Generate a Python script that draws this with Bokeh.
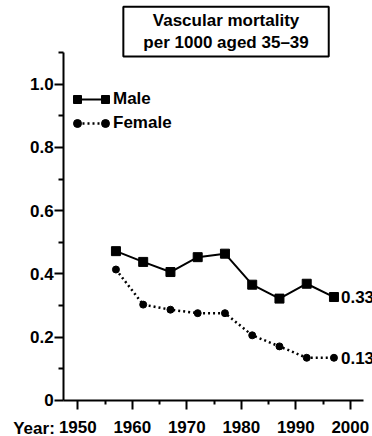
from bokeh.plotting import figure
from bokeh.models import (Range1d, FixedTicker, Label, Legend, LegendItem)
from bokeh.core.properties import value
from bokeh.embed import file_html
from bokeh.resources import INLINE

# ---- data ----
years = [1957, 1962, 1967, 1972, 1977, 1982, 1987, 1992, 1997]
male = [0.472, 0.438, 0.406, 0.453, 0.464, 0.366, 0.322, 0.369, 0.327]
female = [0.414, 0.303, 0.287, 0.276, 0.276, 0.206, 0.171, 0.135, 0.135]
end_labels = ["0.33", "0.13"]
series_names = ["Male", "Female"]
x_ticks = [1950, 1960, 1970, 1980, 1990, 2000]
x_minor = [1955, 1965, 1975, 1985, 1995]
y_ticks = [0, 0.2, 0.4, 0.6, 0.8, 1.0]
y_tick_labels = ["0", "0.2", "0.4", "0.6", "0.8", "1.0"]
y_minor = [0.1, 0.3, 0.5, 0.7, 0.9, 1.1]
title_text = "Vascular mortality\nper 1000 aged 35\u201339"

FONT = "Liberation Sans"
FS = "17px"

# axis extents (data) and full canvas ranges
X_AXIS_START, X_AXIS_END = 1947.4, 2002.4
Y_AXIS_START, Y_AXIS_END = 0, 1.1001

p = figure(width=372, height=436, output_backend="svg", toolbar_location=None,
           x_range=Range1d(1935.82, 2004.07), y_range=Range1d(-0.1138, 1.2642),
           min_border=0)
p.outline_line_color = None
p.grid.visible = False
p.background_fill_color = "white"
p.border_fill_color = "white"

for ax in (p.xaxis[0], p.yaxis[0]):
    ax.axis_line_width = 2
    ax.major_tick_line_width = 2
    ax.minor_tick_line_width = 2
    ax.major_tick_in = 0
    ax.minor_tick_in = 0
    ax.major_label_text_font = FONT
    ax.major_label_text_font_style = "bold"
    ax.major_label_text_font_size = FS
    ax.major_label_text_color = "black"
    ax.axis_line_color = "black"
    ax.major_tick_line_color = "black"
    ax.minor_tick_line_color = "black"

p.xaxis.ticker = FixedTicker(ticks=x_ticks, minor_ticks=x_minor)
p.xaxis.major_tick_out = 9
p.xaxis.minor_tick_out = 4
p.xaxis.major_label_standoff = 12
p.xaxis.fixed_location = 0
p.xaxis.bounds = (X_AXIS_START, X_AXIS_END)

p.yaxis.ticker = FixedTicker(ticks=y_ticks, minor_ticks=y_minor)
p.yaxis.major_label_overrides = {t: l for t, l in zip(y_ticks, y_tick_labels)}
p.yaxis.major_tick_out = 9
p.yaxis.minor_tick_out = 5
p.yaxis.major_label_standoff = 1
p.yaxis.fixed_location = X_AXIS_START
p.yaxis.bounds = (Y_AXIS_START, Y_AXIS_END)

ml = p.line(years, male, line_color="black", line_width=2)
ms = p.scatter(years, male, marker="square", size=9, fill_color="black", line_color="black")
fl = p.line(years, female, line_color="black", line_width=2.5, line_dash="2 3")
fs = p.scatter(years, female, marker="circle", size=7, fill_color="black", line_color="black")

common = dict(padding=0, margin=0, spacing=4, glyph_height=20, label_height=20,
              border_line_alpha=0, background_fill_alpha=0,
              label_text_font=FONT, label_text_font_style="bold",
              label_text_font_size=FS, label_text_color="black")

# legend: lines with labels
p.add_layout(Legend(items=[LegendItem(label=series_names[0], renderers=[ml]),
                           LegendItem(label=series_names[1], renderers=[fl])],
                    location=(77, 303), glyph_width=28, label_standoff=8, **common))
# legend markers at both ends of the sample line
for x0 in (67, 95):
    p.add_layout(Legend(items=[LegendItem(label=value(" "), renderers=[ms]),
                               LegendItem(label=value(" "), renderers=[fs])],
                        location=(x0, 303), glyph_width=20, label_standoff=0,
                        label_width=0, **common))

# end-of-series labels
for yv, txt in zip([male[-1], female[-1]], end_labels):
    p.add_layout(Label(x=years[-1], y=yv, text=txt, x_offset=7,
                       text_align="left", text_baseline="middle",
                       text_font=FONT, text_font_style="bold",
                       text_font_size=FS, text_color="black"))

# "Year:" prefix on the x axis
p.add_layout(Label(x=x_ticks[0], y=0, text="Year:", x_offset=-23, y_offset=-28,
                   text_align="right", text_baseline="alphabetic",
                   text_font=FONT, text_font_style="bold",
                   text_font_size=FS, text_color="black"))

# boxed title
p.add_layout(Label(x=1977.2, y=1.166, text=title_text,
                   text_align="center", text_baseline="middle",
                   text_font=FONT, text_font_style="bold",
                   text_font_size=FS, text_color="black",
                   border_line_color="black", border_line_width=2,
                   background_fill_color="white",
                   padding=(20, 4)))

open("out.html", "w").write(file_html(p, INLINE))
